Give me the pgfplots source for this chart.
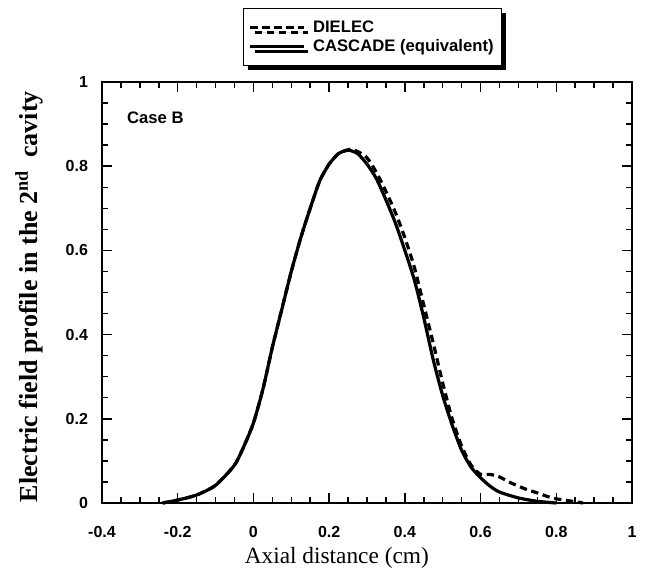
\documentclass[border=0pt]{standalone}
\usepackage{fontspec}
\setmainfont{Liberation Serif}
\setsansfont{Liberation Sans}
\usepackage{pgfplots}
\pgfplotsset{compat=1.18}
\usetikzlibrary{shadows}
\begin{document}
\begin{tikzpicture}
\path[use as bounding box] (-76.5pt,-53.25pt) rectangle (408pt,377.25pt);
\begin{axis}[
  at={(0,0)}, anchor=south west,
  scale only axis, width=397.5pt, height=315.75pt,
  xmin=-0.4, xmax=1, ymin=0, ymax=1,
  xtick={-0.4,-0.2,0,0.2,0.4,0.6,0.8,1},
  xticklabels={-0.4,-0.2,0,0.2,0.4,0.6,0.8,1},
  ytick={0,0.2,0.4,0.6,0.8,1},
  yticklabels={0,0.2,0.4,0.6,0.8,1},
  minor x tick num=3, minor y tick num=3,
  tick align=inside,
  major tick length=7.5pt, minor tick length=4.5pt,
  every tick/.style={black, line width=1.1pt},
  axis line style={line width=1.3pt},
  tick label style={font=\fontsize{12}{14}\sffamily\bfseries},
  xticklabel style={yshift=-14pt},
  yticklabel style={xshift=-7pt},
  xlabel={Axial distance (cm)},
  ylabel={Electric field profile in the 2\textsuperscript{nd}\ \ cavity},
  xlabel style={at={(axis description cs:0.443,-0.131)}, anchor=center, font=\fontsize{17.5}{19}\selectfont},
  ylabel style={at={(axis description cs:-0.137,0.49)}, anchor=center, rotate=0, font=\fontsize{19.5}{21}\bfseries},
  legend style={at={(axis description cs:0.266,1.176)}, anchor=north west,
    draw=black, line width=1.1pt, fill=white,
    drop shadow={shadow xshift=3.5pt, shadow yshift=-3.5pt, fill=black, opacity=1},
    font=\fontsize{12.5}{14}\sffamily\bfseries, row sep=0pt, inner xsep=4pt, inner ysep=7pt,
    /tikz/every odd column/.append style={column sep=4pt}},
  legend cell align=left,
  legend image code/.code={\draw[#1, line width=2pt] (0pt,0pt) -- (40pt,0pt);},
  clip=false,
]
\addplot[black, line width=2.4pt, dash pattern=on 5.5pt off 3.5pt, smooth, tension=0.4] coordinates {
(-0.24,0) (-0.2,0.007) (-0.15,0.019) (-0.1,0.042) (-0.05,0.09) (-0.025,0.135)
(0,0.19) (0.025,0.27) (0.05,0.37) (0.075,0.46) (0.1,0.55) (0.125,0.63)
(0.15,0.70) (0.175,0.765) (0.2,0.805) (0.225,0.83) (0.255,0.84) (0.275,0.835)
(0.3,0.82) (0.325,0.785) (0.35,0.74) (0.375,0.69) (0.4,0.63) (0.425,0.56)
(0.45,0.47) (0.475,0.38) (0.5,0.285) (0.525,0.2) (0.55,0.135) (0.575,0.09)
(0.6,0.068) (0.625,0.068) (0.65,0.062) (0.675,0.05) (0.7,0.04) (0.725,0.031)
(0.75,0.024) (0.775,0.016) (0.8,0.01) (0.85,0.003) (0.87,0)
};
\addlegendentry{DIELEC}
\addplot[black, line width=2.4pt, smooth, tension=0.4] coordinates {
(-0.24,0) (-0.2,0.007) (-0.15,0.019) (-0.1,0.042) (-0.05,0.09) (-0.025,0.135)
(0,0.19) (0.025,0.27) (0.05,0.37) (0.075,0.46) (0.1,0.55) (0.125,0.63)
(0.15,0.70) (0.175,0.765) (0.2,0.805) (0.225,0.83) (0.25,0.838) (0.275,0.83)
(0.3,0.805) (0.325,0.77) (0.35,0.72) (0.375,0.665) (0.4,0.6) (0.425,0.53)
(0.45,0.44) (0.475,0.34) (0.5,0.255) (0.525,0.185) (0.55,0.125) (0.575,0.085)
(0.6,0.06) (0.625,0.04) (0.65,0.026) (0.7,0.012) (0.75,0.004) (0.8,0)
};
\addlegendentry{CASCADE (equivalent)}
\node[anchor=north west, font=\fontsize{12.5}{14}\sffamily\bfseries, inner sep=0pt]
  at (axis description cs:0.047,0.929) {Case B};
\end{axis}
\end{tikzpicture}
\end{document}
